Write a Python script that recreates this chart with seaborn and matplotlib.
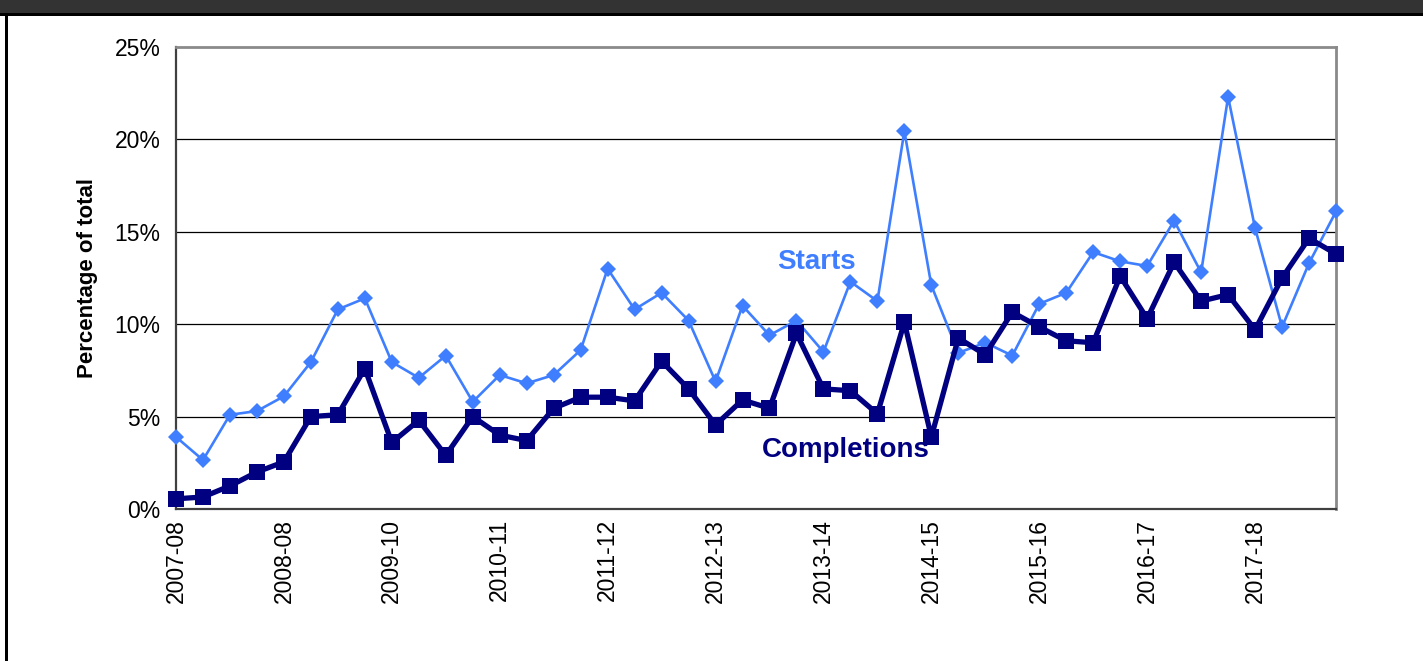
import numpy as np
import pandas as pd
import matplotlib
matplotlib.use("Agg")
import matplotlib.pyplot as plt
from matplotlib.patches import Rectangle
from matplotlib.ticker import FuncFormatter
import seaborn as sns

# ---- data ----
tick_labels = ["2007-08", "2008-08", "2009-10", "2010-11", "2011-12", "2012-13",
               "2013-14", "2014-15", "2015-16", "2016-17", "2017-18"]

starts = [3.9, 2.65, 5.1, 5.3, 6.1, 7.95, 10.8, 11.4, 7.95, 7.1, 8.3, 5.8,
          7.25, 6.8, 7.25, 8.6, 13.0, 10.8, 11.7, 10.2, 6.9, 11.0, 9.4, 10.2,
          8.5, 12.3, 11.25, 20.45, 12.1, 8.45, 9.0, 8.3, 11.1, 11.7, 13.9, 13.4,
          13.15, 15.6, 12.8, 22.3, 15.2, 9.85, 13.3, 16.1]

completions = [0.55, 0.65, 1.25, 2.0, 2.55, 5.0, 5.1, 7.6, 3.6, 4.8, 2.9, 5.0,
               4.0, 3.7, 5.45, 6.05, 6.05, 5.85, 8.0, 6.5, 4.55, 5.9, 5.45, 9.5,
               6.5, 6.4, 5.15, 10.1, 3.9, 9.25, 8.35, 10.65, 9.85, 9.1, 9.0, 12.6,
               10.3, 13.35, 11.25, 11.6, 9.7, 12.5, 14.65, 13.8]

series_names = ["Starts", "Completions"]

# ---- build frame ----
n = len(starts)
df = pd.DataFrame({"period": np.arange(n), "Starts": starts, "Completions": completions})

sns.set_style("white")
plt.rcParams["font.family"] = ["Liberation Sans", "DejaVu Sans"]

W, H = 1423, 661
fig = plt.figure(figsize=(W / 100, H / 100), dpi=100)
ax = fig.add_axes([176 / W, 1 - 509 / H, (1336 - 176) / W, (509 - 47) / H])

starts_col = "#3f7fff"
comp_col = "#000080"

sns.lineplot(data=df, x="period", y="Starts", ax=ax, color=starts_col,
             linewidth=1.9, marker="D", markersize=8.5, markeredgewidth=0,
             zorder=3, clip_on=False)
sns.lineplot(data=df, x="period", y="Completions", ax=ax, color=comp_col,
             linewidth=3.8, marker="s", markersize=12, markeredgewidth=0,
             zorder=4, clip_on=False)

ax.set_xlim(0, n - 1)
ax.set_ylim(0, 25)
ax.set_yticks([0, 5, 10, 15, 20, 25])
ax.yaxis.set_major_formatter(FuncFormatter(lambda v, p: f"{int(v)}%"))
ax.set_xticks(np.arange(0, n, 4)[:len(tick_labels)])
ax.set_xticklabels(tick_labels, rotation=90)

for y in [5, 10, 15, 20]:
    ax.axhline(y, color="black", linewidth=0.9, zorder=1)

ax.tick_params(axis="both", which="major", direction="out", length=5, width=1.2,
               colors="#404040", labelcolor="black", labelsize=16.5)
ax.tick_params(axis="x", pad=2)
ax.tick_params(axis="y", pad=6)

for side in ["left", "bottom"]:
    ax.spines[side].set_color("#404040")
    ax.spines[side].set_linewidth(1.6)
for side in ["top", "right"]:
    ax.spines[side].set_color("#8a8a8a")
    ax.spines[side].set_linewidth(2.0)

ax.set_xlabel("")
ax.set_ylabel("Percentage of total", fontsize=16, fontweight="bold",
              color="black", labelpad=12)

fig.text(816 / W, 1 - 262 / H, series_names[0], color=starts_col, fontsize=20,
         fontweight="bold", ha="center", va="center")
fig.text(846 / W, 1 - 450 / H, series_names[1], color=comp_col, fontsize=20,
         fontweight="bold", ha="center", va="center")

# header band and border
fig.add_artist(Rectangle((0, 1 - 13 / H), 1, 13 / H, transform=fig.transFigure,
                         facecolor="#333333", edgecolor="none"))
fig.add_artist(Rectangle((0, 1 - 16 / H), 1, 3 / H, transform=fig.transFigure,
                         facecolor="black", edgecolor="none"))
fig.add_artist(Rectangle((5 / W, 0), 3 / W, 1 - 13 / H, transform=fig.transFigure,
                         facecolor="black", edgecolor="none"))

fig.savefig("out.png", dpi=100, facecolor="white")
